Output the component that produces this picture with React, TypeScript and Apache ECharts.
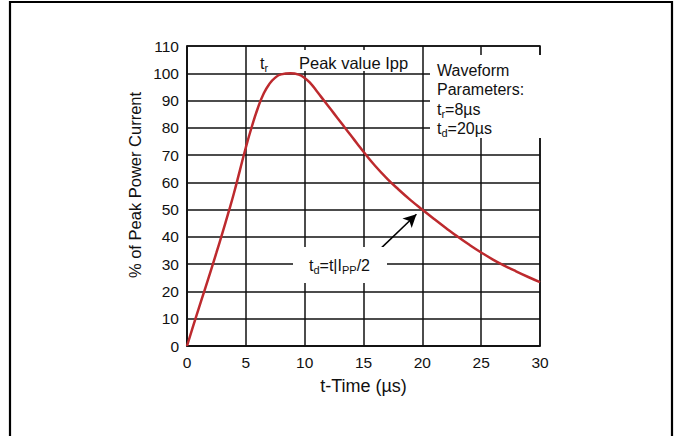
import React, { useEffect, useRef } from "react";
import * as echarts from "echarts";

// Time axis (µs) and % of peak current
const timeUs = [0, 0.5, 1, 1.5, 2, 2.5, 3, 3.5, 4, 4.5, 5, 5.5, 6, 6.5, 7, 7.5, 8, 8.8, 9.5, 10, 10.5, 11, 11.5, 12, 12.5, 13, 13.5, 14, 14.5, 15, 16, 17, 18, 19, 20, 21, 22, 23, 24, 25, 26, 27, 28, 29, 30];
const percentPeak = [0, 7, 13.8, 20.5, 27.3, 34.2, 41.3, 48.6, 56.2, 64.5, 72.8, 80.3, 87, 92.4, 96.1, 98.4, 99.6, 100, 99.5, 98.3, 96.3, 93.6, 90.8, 88, 85.2, 82.4, 79.6, 76.8, 74, 71.2, 66, 61.4, 57.3, 53.5, 50, 46.6, 43.3, 40.1, 37.1, 34.3, 31.7, 29.4, 27.3, 25.3, 23.4];

// Arrow annotation pointing to t_d (data coordinates)
const arrowFrom = [16.5, 35.9];
const arrowTo = [19.5, 48.3];

const xTitle = "t-Time (µs)";
const yTitle = "% of Peak Power Current";
const peakLabel = "Peak value Ipp";
const paramLines = ["{m|Waveform}", "{m|Parameters:}", "{m|t}{s|r}{m|=8µs}", "{m|t}{s|d}{m|=20µs}"];
const tdLabel = "{m|t}{s|d}{m|=t|I}{s|PP}{m|/2}";

const FONT = "'Liberation Sans', Arial, Helvetica, sans-serif";
const INK = "#111";
const RED = "#bd2a2e";

const rich = {
  m: { fontSize: 16, fontFamily: FONT, fill: INK, color: INK, lineHeight: 20 },
  s: { fontSize: 11, fontFamily: FONT, fill: INK, color: INK, lineHeight: 11, verticalAlign: "bottom" },
};

export default function App() {
  const ref = useRef<HTMLDivElement>(null);

  useEffect(() => {
    if (!ref.current) return;
    const chart = echarts.init(ref.current, undefined, { renderer: "svg" });
    const data = timeUs.map((t, i) => [t, percentPeak[i]]);
    const gridLine = { lineStyle: { color: INK, width: 1.5 } };

    chart.setOption({
      animation: false,
      backgroundColor: "#fff",
      grid: { left: 187, right: 138, top: 46, bottom: 90, show: true, borderColor: INK, borderWidth: 1.5 },
      xAxis: {
        type: "value",
        min: 0,
        max: 30,
        interval: 5,
        name: xTitle,
        nameLocation: "middle",
        nameGap: 31,
        nameTextStyle: { fontSize: 18, fontFamily: FONT, color: INK },
        axisLine: { show: true, lineStyle: { color: INK, width: 1.5 } },
        axisTick: { show: false },
        axisLabel: { fontSize: 15.5, fontFamily: FONT, color: INK, margin: 8 },
        splitLine: { show: true, ...gridLine },
      },
      yAxis: {
        type: "value",
        min: 0,
        max: 110,
        interval: 10,
        axisLine: { show: true, lineStyle: { color: INK, width: 1.5 } },
        axisTick: { show: false },
        axisLabel: { fontSize: 15.5, fontFamily: FONT, color: INK, margin: 8 },
        splitLine: { show: true, ...gridLine },
      },
      series: [
        {
          type: "line",
          data,
          z: 100,
          smooth: true,
          showSymbol: false,
          lineStyle: { color: RED, width: 2.5 },
          silent: true,
          markLine: {
            silent: true,
            symbol: ["none", "arrow"],
            symbolSize: [10, 13],
            label: { show: false },
            lineStyle: { color: "#000", width: 1.5, type: "solid" },
            emphasis: { disabled: true },
            data: [[{ coord: arrowFrom }, { coord: arrowTo }]],
          },
        },
      ],
      graphic: [
        {
          type: "rect",
          z: 1,
          shape: { x: 10, y: 2, width: 662, height: 470 },
          style: { fill: "none", stroke: "#000", lineWidth: 2.2 },
        },
        {
          type: "text",
          z: 50,
          x: 135,
          y: 185,
          rotation: Math.PI / 2,
          style: { text: yTitle, fontSize: 16.5, fontFamily: FONT, fill: INK, align: "center", verticalAlign: "middle" },
        },
        { type: "rect", z: 50, shape: { x: 252, y: 50, width: 163, height: 21 }, style: { fill: "#fff" } },
        {
          type: "text",
          z: 51,
          x: 260,
          y: 63,
          style: { text: "{m|t}{s|r}", rich, align: "left", verticalAlign: "middle" },
        },
        {
          type: "text",
          z: 51,
          x: 299,
          y: 63,
          style: { text: peakLabel, fontSize: 16.5, fontFamily: FONT, fill: INK, align: "left", verticalAlign: "middle" },
        },
        { type: "rect", z: 50, shape: { x: 430, y: 55, width: 111, height: 83 }, style: { fill: "#fff" } },
        ...paramLines.map((txt, i) => ({
          type: "text",
          z: 51,
          x: 437,
          y: 70 + i * 19.5,
          style: { text: txt, rich, align: "left", verticalAlign: "middle" },
        })),
        { type: "rect", z: 50, shape: { x: 293, y: 247, width: 94, height: 36 }, style: { fill: "#fff" } },
        {
          type: "text",
          z: 51,
          x: 339.5,
          y: 265,
          style: { text: tdLabel, rich, align: "center", verticalAlign: "middle" },
        },
      ],
    });
    return () => chart.dispose();
  }, []);

  return (
    <div
      ref={ref}
      style={{ position: "absolute", left: 0, top: 0, width: 678, height: 436 }}
    />
  );
}
